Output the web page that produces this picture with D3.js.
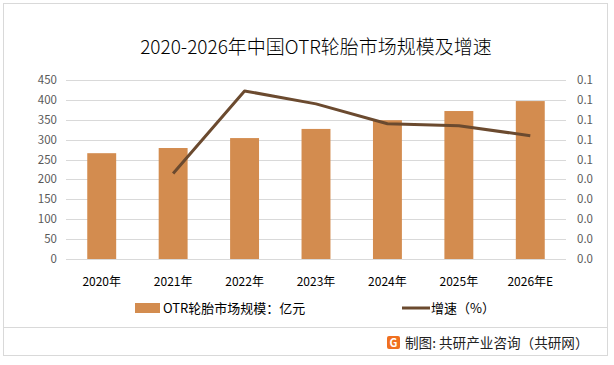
<!DOCTYPE html>
<html>
<head>
<meta charset="utf-8">
<script src="https://cdn.jsdelivr.net/npm/d3@7"></script>
<style>
  body { margin: 0; background: #fff; }
  svg text { font-family: "Noto Sans CJK SC", "Noto Sans", sans-serif; }
</style>
</head>
<body>
<div id="chart"></div>
<script>
var years = ["2020年", "2021年", "2022年", "2023年", "2024年", "2025年", "2026年E"];
var marketSize = [266, 279, 304, 327, 349, 372, 397];
var growth = [null, 0.043, 0.0845, 0.078, 0.068, 0.067, 0.062];
var leftTicks = [0, 50, 100, 150, 200, 250, 300, 350, 400, 450];
var rightTicks = [0, 0.01, 0.02, 0.03, 0.04, 0.05, 0.06, 0.07, 0.08, 0.09];

var W = 614, H = 365,
    plot = { left: 66, right: 566, top: 80, bottom: 259 };

var svg = d3.select("#chart").append("svg")
    .attr("width", W).attr("height", H);

// frame
svg.append("rect")
    .attr("x", 3.5).attr("y", 3.5)
    .attr("width", 604).attr("height", 352)
    .style("fill", "none").style("stroke", "#d9d9d9");

svg.append("text")
    .attr("x", 316).attr("y", 54)
    .attr("text-anchor", "middle")
    .style("font-size", "19px").style("font-weight", 300).style("fill", "#000")
    .text("2020-2026年中国OTR轮胎市场规模及增速");

var x = d3.scaleBand().domain(years)
    .range([plot.left, plot.right]).paddingInner(0.595).paddingOuter(0.2975);
var y = d3.scaleLinear().domain([0, 450]).range([plot.bottom, plot.top]);
var y2 = d3.scaleLinear().domain([0, 0.09]).range([plot.bottom, plot.top]);

// grid
svg.append("g").selectAll("line").data(leftTicks).join("line")
    .attr("x1", plot.left).attr("x2", plot.right)
    .attr("y1", d => Math.round(y(d)) + 0.5).attr("y2", d => Math.round(y(d)) + 0.5)
    .style("stroke", "#d9d9d9").style("stroke-width", 1);

// left axis labels
svg.append("g").selectAll("text").data(leftTicks).join("text")
    .attr("x", 57).attr("y", d => y(d) + 4)
    .attr("text-anchor", "end")
    .style("font-size", "11.5px").style("fill", "#595959")
    .text(d => d);

// right axis labels
svg.append("g").selectAll("text").data(rightTicks).join("text")
    .attr("x", 577).attr("y", d => y2(d) + 4)
    .style("font-size", "11.5px").style("fill", "#595959")
    .text(d => d3.format(".1f")(d + 1e-9));

// bars
svg.append("g").selectAll("rect").data(marketSize).join("rect")
    .attr("x", (d, i) => x(years[i]))
    .attr("y", d => y(d))
    .attr("width", x.bandwidth())
    .attr("height", d => plot.bottom - y(d))
    .style("fill", "#d38c4f");

// x labels
svg.append("g").selectAll("text").data(years).join("text")
    .attr("x", d => x(d) + x.bandwidth() / 2).attr("y", 286)
    .attr("text-anchor", "middle")
    .style("font-size", "12px").style("fill", "#000")
    .text(d => d);

// growth line
var line = d3.line()
    .defined(d => d != null)
    .x((d, i) => x(years[i]) + x.bandwidth() / 2)
    .y(d => y2(d));

svg.append("path").datum(growth)
    .attr("d", line)
    .style("fill", "none").style("stroke", "#6b4a2f")
    .style("stroke-width", 3).style("stroke-linejoin", "round");

// legend
svg.append("rect").attr("x", 135).attr("y", 303).attr("width", 25).attr("height", 10)
    .style("fill", "#d38c4f");
svg.append("text").attr("x", 163).attr("y", 313)
    .style("font-size", "13px").style("fill", "#000")
    .text("OTR轮胎市场规模：亿元");
svg.append("line").attr("x1", 402).attr("x2", 430).attr("y1", 308).attr("y2", 308)
    .style("stroke", "#6b4a2f").style("stroke-width", 3);
svg.append("text").attr("x", 431).attr("y", 313)
    .style("font-size", "13px").style("fill", "#000")
    .text("增速（%）");

// footer
svg.append("line").attr("x1", 3.5).attr("x2", 607.5).attr("y1", 327.5).attr("y2", 327.5)
    .style("stroke", "#d9d9d9");
var logo = svg.append("g").attr("transform", "translate(387,336)");
logo.append("rect").attr("width", 13).attr("height", 13).attr("rx", 2)
    .style("fill", "#f07020");
logo.append("text").attr("x", 6.5).attr("y", 11).attr("text-anchor", "middle")
    .style("font-size", "11px").style("font-weight", "bold").style("fill", "#fff")
    .text("G");
svg.append("text").attr("x", 405).attr("y", 348)
    .style("font-size", "13.6px").style("fill", "#222")
    .text("制图: 共研产业咨询（共研网）");
</script>
</body>
</html>
